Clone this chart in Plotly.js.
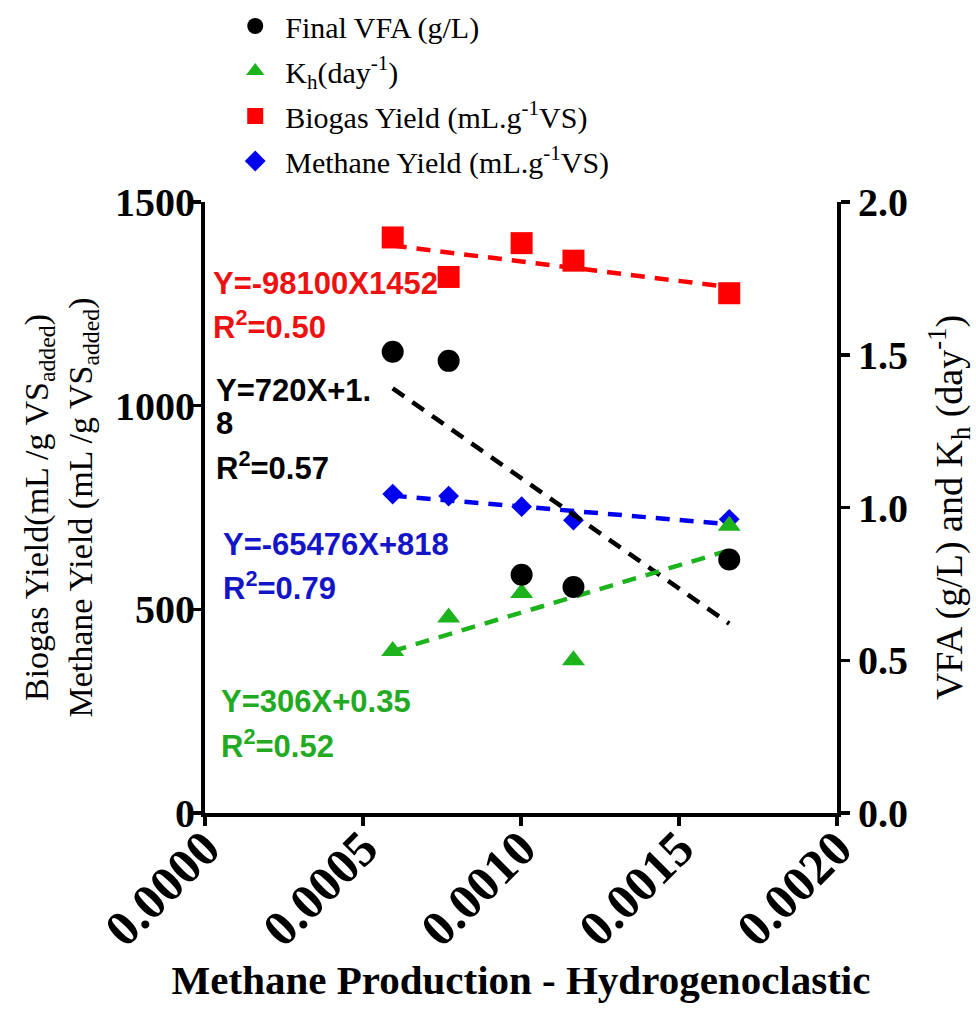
<!DOCTYPE html>
<html>
<head>
<meta charset="utf-8">
<script src="https://cdn.plot.ly/plotly-3.0.1.min.js"></script>
<style>html,body{margin:0;padding:0;background:#fff;}#chart{width:976px;height:1013px;}</style>
</head>
<body>
<div id="chart"></div>
<script>
// Methane production - hydrogenoclastic (x)
const xVals = [0.000594, 0.000771, 0.001002, 0.001166, 0.001659];
// Right axis series
const finalVFA = [1.51, 1.48, 0.78, 0.74, 0.83];
const kh = [0.53, 0.64, 0.72, 0.50, 0.94];
// Left axis series
const biogasYield = [1413, 1316, 1399, 1356, 1276];
const methaneYield = [783, 778, 752, 719, 721];
// Trend lines (end points)
const fitX = [0.000594, 0.001659];
const biogasFit = [1393, 1291];
const methaneFit = [779, 709];
const vfaFit = [1.39, 0.62];
const khFit = [0.53, 0.86];
// Tick values
const xTicks = [0, 0.0005, 0.001, 0.0015, 0.002];
const xTickText = ['0.0000', '0.0005', '0.0010', '0.0015', '0.0020'];
const yTicks = [0, 500, 1000, 1500];
const y2Ticks = [0, 0.5, 1.0, 1.5, 2.0];
const y2TickText = ['0.0', '0.5', '1.0', '1.5', '2.0'];

const RED = '#FF0000', GREEN = '#1DB31D', BLUE = '#0000F0', BLACK = '#000000';
const dash = '14px,10px';

const traces = [
  {x: fitX, y: biogasFit, mode: 'lines', line: {color: RED, width: 4.5, dash: dash}, showlegend: false, hoverinfo: 'skip'},
  {x: fitX, y: methaneFit, mode: 'lines', line: {color: BLUE, width: 4.5, dash: dash}, showlegend: false, hoverinfo: 'skip'},
  {x: xVals, y: biogasYield, mode: 'markers', name: 'Biogas Yield (mL.g<sup>-1</sup>VS)', legendrank: 3,
   legendgroup: 'c', marker: {symbol: 'square', size: 22, color: RED}},
  {x: xVals, y: methaneYield, mode: 'markers', name: 'Methane Yield (mL.g<sup>-1</sup>VS)', legendrank: 4,
   legendgroup: 'd', marker: {symbol: 'diamond', size: 16, color: BLUE}},
  {x: fitX, y: vfaFit, yaxis: 'y2', mode: 'lines', line: {color: BLACK, width: 4.5, dash: dash}, showlegend: false, hoverinfo: 'skip'},
  {x: fitX, y: khFit, yaxis: 'y2', mode: 'lines', line: {color: GREEN, width: 4.5, dash: dash}, showlegend: false, hoverinfo: 'skip'},
  {x: xVals, y: kh, yaxis: 'y2', mode: 'markers', name: 'K<sub>h</sub>(day<sup>-1</sup>)', legendrank: 2,
   legendgroup: 'b', marker: {symbol: 'triangle-up', size: 20, color: GREEN}},
  {x: xVals, y: finalVFA, yaxis: 'y2', mode: 'markers', name: 'Final VFA (g/L)', legendrank: 1,
   legendgroup: 'a', marker: {symbol: 'circle', size: 22, color: BLACK}}
];

function ann(text, x, y, color) {
  return {text: text, xref: 'paper', yref: 'paper', x: x, y: y, xanchor: 'left', yanchor: 'middle',
          showarrow: false, font: {family: 'Liberation Sans, Arial, sans-serif', size: 31, color: color, weight: 'bold'}};
}

const annotations = [
  ann('<b>Y=-98100X1452</b>', 0.010, 0.867, '#EE1111'),
  ann('<b>R<sup>2</sup>=0.50</b>', 0.010, 0.799, '#EE1111'),
  ann('<b>Y=720X+1.</b>', 0.014, 0.692, BLACK),
  ann('<b>8</b>', 0.014, 0.637, BLACK),
  ann('<b>R<sup>2</sup>=0.57</b>', 0.014, 0.568, BLACK),
  ann('<b>Y=-65476X+818</b>', 0.025, 0.440, '#1515C8'),
  ann('<b>R<sup>2</sup>=0.79</b>', 0.025, 0.371, '#1515C8'),
  ann('<b>Y=306X+0.35</b>', 0.022, 0.182, '#22AA22'),
  ann('<b>R<sup>2</sup>=0.52</b>', 0.022, 0.113, '#22AA22')
];

const serif = 'Liberation Serif, Times New Roman, serif';

const layout = {
  width: 976, height: 1013,
  margin: {l: 205, r: 139, t: 202, b: 200},
  paper_bgcolor: '#fff', plot_bgcolor: '#fff',
  showlegend: true,
  legend: {x: 0.032, y: 1.009, xref: 'paper', yref: 'container', xanchor: 'left', yanchor: 'top',
           bgcolor: 'rgba(0,0,0,0)', font: {family: serif, size: 30, color: '#000'}, itemwidth: 50,
           tracegroupgap: 3, traceorder: 'grouped'},
  xaxis: {range: [0, 0.002], tickvals: xTicks, ticktext: xTickText, tickangle: -45,
          showgrid: false, zeroline: false, showline: true, linewidth: 4, linecolor: '#000',
          ticks: 'outside', ticklen: 9, tickwidth: 3.5, tickcolor: '#000', ticklabelstandoff: -27,
          tickfont: {family: serif, size: 50, color: '#000', weight: 'bold'},
          title: {text: '<b>Methane Production - Hydrogenoclastic</b>', standoff: 10,
                  font: {family: serif, size: 41, color: '#000'}}},
  yaxis: {range: [0, 1500], tickvals: yTicks, showgrid: false, zeroline: false, showline: true,
          linewidth: 4, linecolor: '#000', ticks: 'outside', ticklen: 9, tickwidth: 3.5, tickcolor: '#000',
          ticklabelstandoff: -11,
          tickfont: {family: serif, size: 40, color: '#000', weight: 'bold'},
          title: {text: 'Biogas Yield(mL /g VS<sub>added</sub>)<br>Methane Yield (mL /g VS<sub>added</sub>)',
                  standoff: 13, font: {family: serif, size: 34, color: '#000'}}},
  yaxis2: {range: [0, 2], tickvals: y2Ticks, ticktext: y2TickText, overlaying: 'y', side: 'right',
           showgrid: false, zeroline: false, showline: true, linewidth: 4, linecolor: '#000',
           ticks: 'outside', ticklen: 9, tickwidth: 3.5, tickcolor: '#000',
           tickfont: {family: serif, size: 40, color: '#000', weight: 'bold'},
           title: {text: 'VFA (g/L) and K<sub>h</sub> (day<sup>-1</sup>)', standoff: 33,
                   font: {family: serif, size: 38, color: '#000'}}},
  annotations: annotations
};

Plotly.newPlot('chart', traces, layout, {staticPlot: true, displayModeBar: false});
</script>
</body>
</html>
